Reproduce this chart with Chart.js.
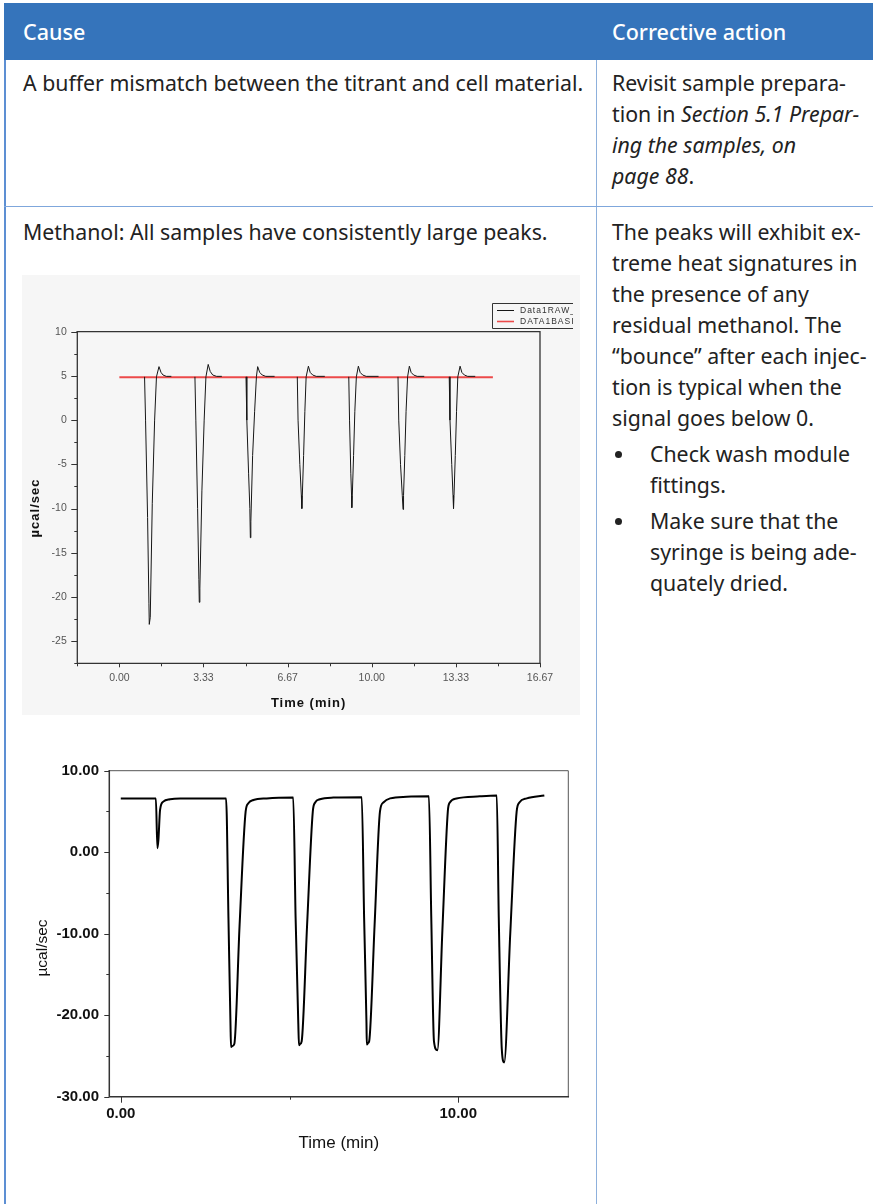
<!DOCTYPE html>
<html><head><meta charset="utf-8">
<script src="https://cdn.jsdelivr.net/npm/chart.js@4.4.1/dist/chart.umd.min.js"></script>
<style>
html,body{margin:0;padding:0;background:#fff;}
body{width:873px;height:1204px;position:relative;overflow:hidden;font-family:"Noto Sans",sans-serif;color:#222;}
.abs{position:absolute;}
.hdr{left:4px;top:3px;width:869px;height:57px;background:#3574bb;}
.htxt{color:#fff;font-size:21.5px;font-weight:500;top:3px;height:57px;line-height:57px;white-space:nowrap;}
.txt{font-size:21.3px;line-height:31px;white-space:nowrap;}
.dot{width:7px;height:7px;border-radius:50%;background:#222;}
canvas{position:absolute;display:block;}
</style>
</head><body>
<div class="abs hdr"></div>
<div class="abs htxt" style="left:23px">Cause</div>
<div class="abs htxt" style="left:612px">Corrective action</div>
<div class="abs" style="left:4px;top:60px;width:2px;height:1144px;background:#5d8fd3"></div>
<div class="abs" style="left:596px;top:60px;width:1px;height:1144px;background:#8db0dc"></div>
<div class="abs" style="left:4px;top:206px;width:869px;height:1px;background:#7fa7dc"></div>

<div class="abs txt" style="left:23px;top:67px">A buffer mismatch between the titrant and cell material.</div>
<div class="abs txt" style="left:612px;top:67px">Revisit sample prepara-<br>tion in <i>Section 5.1 Prepar-<br>ing the samples, on<br>page 88</i>.</div>

<div class="abs txt" style="left:23px;top:216px">Methanol: All samples have consistently large peaks.</div>
<div class="abs txt" style="left:612px;top:216px">The peaks will exhibit ex-<br>treme heat signatures in<br>the presence of any<br>residual methanol. The<br>“bounce” after each injec-<br>tion is typical when the<br>signal goes below 0.</div>
<div class="abs dot" style="left:615px;top:451px"></div>
<div class="abs txt" style="left:650px;top:438px">Check wash module<br>fittings.</div>
<div class="abs dot" style="left:615px;top:518px"></div>
<div class="abs txt" style="left:650px;top:505px">Make sure that the<br>syringe is being ade-<br>quately dried.</div>

<canvas id="c1" width="558" height="440" style="left:22px;top:275px;background:#f6f6f6"></canvas>
<canvas id="c2" width="568" height="425" style="left:22px;top:745px;background:#ffffff"></canvas>

<script>
// ---------- Chart 1 data (top, Origin-style plot) ----------
const legendLabels1 = ['Data1RAW_', 'DATA1BASI'];
const rawTime1 = [
  0.998,1.038,1.118,1.171,1.185,1.224,1.304,1.397,1.47,1.57,1.65,1.73,1.86,2.06, 2.5,
  2.994,3.03,3.10,3.15,3.166,3.19,3.27,3.36,3.43,3.52,3.6,3.7,3.85,4.06, 4.5,
  5.018,5.05,5.12,5.17,5.19,5.21,5.28,5.36,5.43,5.48,5.56,5.66,5.8,6.15, 6.6,
  7.05,7.08,7.15,7.21,7.23,7.25,7.3,7.35,7.4,7.49,7.56,7.66,7.8,8.14, 8.6,
  9.09,9.12,9.17,9.2,9.21,9.23,9.28,9.33,9.39,9.47,9.54,9.64,9.78,10.27, 10.6,
  11.04,11.07,11.14,11.21,11.24,11.26,11.31,11.36,11.42,11.49,11.56,11.66,11.8,12.08, 12.6,
  13.07,13.1,13.17,13.22,13.24,13.26,13.31,13.36,13.41,13.5,13.57,13.67,13.8,14.1
];
const rawSignal1 = [
  4.9,0,-11,-20.7,-23.1,-22.3,-9.4,0,4.9,6.05,5.4,5.1,4.95,4.95, null,
  4.9,0,-10,-18,-20.6,-19,-8,0,4.9,6.3,5.5,5.1,4.95,4.95, null,
  4.9,0,-6,-10,-13.3,-11.5,-4,1,4.9,6.05,5.4,5.1,4.95,4.95, null,
  4.9,0,-5,-8.5,-10,-8.5,-4,1,4.9,6.1,5.4,5.1,4.95,4.95, null,
  4.9,0,-6,-8.5,-9.9,-8.5,-4,1,4.9,6.1,5.4,5.1,4.95,4.95, null,
  4.9,0,-5,-8.5,-10.1,-8.5,-4,1,4.9,6.1,5.4,5.1,4.95,4.95, null,
  4.9,0,-5,-8.5,-10,-8.5,-4,1,4.9,6.1,5.4,5.1,4.95,4.95
];
const baseTime1 = [0, 14.8];
const baseSignal1 = [4.85, 4.85];
const xTickValues1 = [-1.6667,0,1.6667,3.3333,5,6.6667,8.3333,10,11.6667,13.3333,15,16.6667];
const xTickLabels1 = ['','0.00','','3.33','','6.67','','10.00','','13.33','','16.67'];
const yTickValues1 = [-27.5,-25,-22.5,-20,-17.5,-15,-12.5,-10,-7.5,-5,-2.5,0,2.5,5,7.5,10];
const yTickLabels1 = ['','-25','','-20','','-15','','-10','','-5','','0','','5','','10'];

// ---------- Chart 2 data (bottom plot) ----------
const time2 = [
  0,
  1.04,1.085,1.115,1.164,1.26,1.46,1.76,
  3.12,3.19,3.25,3.267,3.30,3.366,3.52,3.70,3.78,3.93,4.32,
  5.11,5.18,5.26,5.28,5.32,5.36,5.52,5.69,5.76,5.90,6.30,
  7.14,7.21,7.28,7.29,7.33,7.36,7.52,7.68,7.78,7.98,8.47,
  9.13,9.2,9.28,9.38,9.53,9.69,9.75,9.95,10.64,
  11.14,11.2,11.29,11.36,11.54,11.73,11.81,12.03,12.55
];
const signal2 = [
  6.6,
  6.6,0.5,1.5,5.2,6.2,6.5,6.6,
  6.6,-8,-21,-23.9,-23.8,-23.5,-9,5.0,6.0,6.4,6.6,
  6.7,-8,-21,-23.7,-23.5,-23.2,-9,5.0,6.1,6.5,6.7,
  6.75,-8,-21,-23.6,-23.4,-23.2,-9,5.0,6.1,6.6,6.8,
  6.85,-8,-23.2,-24.3,-9.5,5.0,6.1,6.6,6.85,
  6.95,-8,-24.2,-25.8,-10,5.0,6.1,6.6,6.95
];
const xTickValues2 = [0,5,10];
const xTickLabels2 = ['0.00','','10.00'];
const yTickValues2 = [-30,-25,-20,-15,-10,-5,0,5,10];
const yTickLabels2 = ['-30.00','','-20.00','','-10.00','','0.00','','10.00'];

// ---------- plugins ----------
const tickMarks = {
  id:'tickMarks',
  afterDatasetsDraw(chart, args, o){
    const ctx = chart.ctx; ctx.save();
    ctx.strokeStyle = o.color; ctx.lineWidth = o.width;
    const xs = chart.scales.x, ys = chart.scales.y;
    xs.ticks.forEach(t => {
      const p = Math.round(xs.getPixelForValue(t.value)) + 0.5;
      const len = t.label !== '' ? o.xMajor : o.xMinor;
      ctx.beginPath(); ctx.moveTo(p, xs.top); ctx.lineTo(p, xs.top + len); ctx.stroke();
    });
    ys.ticks.forEach(t => {
      const p = Math.round(ys.getPixelForValue(t.value)) + 0.5;
      const len = t.label !== '' ? o.yMajor : o.yMinor;
      ctx.beginPath(); ctx.moveTo(ys.right, p); ctx.lineTo(ys.right - len, p); ctx.stroke();
    });
    ctx.restore();
  }
};
const frame = {
  id:'frame',
  afterDatasetsDraw(chart, args, o){
    const {left, top, right, bottom} = chart.chartArea; const ctx = chart.ctx;
    ctx.save(); ctx.lineCap = 'square';
    ctx.strokeStyle = o.outerColor; ctx.lineWidth = o.outerWidth;
    ctx.beginPath(); ctx.moveTo(left, top); ctx.lineTo(right, top); ctx.lineTo(right, bottom); ctx.stroke();
    ctx.strokeStyle = o.axisColor; ctx.lineWidth = o.axisWidth;
    ctx.beginPath(); ctx.moveTo(left, top); ctx.lineTo(left, bottom); ctx.lineTo(right, bottom); ctx.stroke();
    ctx.restore();
  }
};
const axisTitles = {
  id:'axisTitles',
  afterDraw(chart, args, o){
    const ctx = chart.ctx, a = chart.chartArea;
    ctx.save(); ctx.fillStyle = o.color; ctx.textAlign = 'center'; ctx.textBaseline = 'middle';
    ctx.letterSpacing = o.spacing || '0px';
    ctx.font = o.xFont; ctx.fillText(o.xText, (a.left + a.right) / 2, a.bottom + o.xOffset);
    ctx.translate(o.yX, (a.top + a.bottom) / 2 + o.yShift); ctx.rotate(-Math.PI / 2);
    ctx.font = o.yFont; ctx.fillText(o.yText, 0, 0);
    ctx.restore();
  }
};
const legendBox = {
  id:'legendBox',
  afterDraw(chart, args, o){
    const ctx = chart.ctx; ctx.save();
    ctx.beginPath(); ctx.rect(0, 0, o.right, chart.height); ctx.clip();
    ctx.strokeStyle = '#333'; ctx.lineWidth = 1;
    ctx.beginPath();
    ctx.moveTo(o.right + 2, o.top + 0.5); ctx.lineTo(o.left + 0.5, o.top + 0.5);
    ctx.lineTo(o.left + 0.5, o.bottom + 0.5); ctx.lineTo(o.right + 2, o.bottom + 0.5); ctx.stroke();
    ctx.font = o.font; ctx.textBaseline = 'middle'; ctx.fillStyle = '#333';
    ctx.letterSpacing = '1px';
    chart.data.datasets.forEach((ds, i) => {
      const y = o.top + o.rowY[i];
      ctx.strokeStyle = ds.borderColor; ctx.lineWidth = i === 0 ? 1 : 1.6;
      ctx.beginPath(); ctx.moveTo(o.left + 5, y); ctx.lineTo(o.left + 22, y); ctx.stroke();
      ctx.fillText(ds.label, o.left + 28, y);
    });
    ctx.restore();
  }
};

// ---------- Chart 1 ----------
new Chart(document.getElementById('c1'), {
  type:'line',
  data:{datasets:[
    {label:legendLabels1[0], data:rawTime1.map((t,i)=>({x:t, y:rawSignal1[i]})), borderColor:'#161616', borderWidth:1, pointRadius:0, tension:0, spanGaps:false},
    {label:legendLabels1[1], data:baseTime1.map((t,i)=>({x:t, y:baseSignal1[i]})), borderColor:'#ec4a4a', borderWidth:1.8, pointRadius:0, tension:0}
  ]},
  plugins:[tickMarks, frame, axisTitles, legendBox],
  options:{
    responsive:false, animation:false, events:[],
    layout:{padding:{left:0, top:56.7, right:40, bottom:0}},
    plugins:{
      legend:{display:false}, tooltip:{enabled:false},
      tickMarks:{color:'#333', width:1, xMajor:4, xMinor:3, yMajor:6, yMinor:3},
      frame:{outerColor:'#333', outerWidth:1.3, axisColor:'#333', axisWidth:1.3},
      axisTitles:{color:'#111', spacing:'1px', xText:'Time (min)', xFont:'bold 13px "Liberation Sans", Arial, sans-serif', xOffset:39.7,
                  yText:'µcal/sec', yFont:'bold 13px "Liberation Sans", Arial, sans-serif', yX:13, yShift:10.5},
      legendBox:{left:470, top:28, bottom:53, right:551, rowY:[7.5, 18.5], font:'8.5px "Liberation Sans", Arial, sans-serif'}
    },
    scales:{
      x:{type:'linear', min:-1.6667, max:16.6667, grid:{display:false, drawTicks:false}, border:{display:false},
         afterBuildTicks:s=>{ s.ticks = xTickValues1.map(v=>({value:v})); },
         afterFit:s=>{ s.height = 51.7; },
         ticks:{autoSkip:false, maxRotation:0, padding:8.5, color:'#555', font:{family:'"Liberation Sans", Arial, sans-serif', size:10.5},
                callback:(v,i)=>xTickLabels1[i]}},
      y:{type:'linear', min:-27.5, max:10, grid:{display:false, drawTicks:false}, border:{display:false},
         afterBuildTicks:s=>{ s.ticks = yTickValues1.map(v=>({value:v})); },
         afterFit:s=>{ s.width = 55.3; },
         ticks:{autoSkip:false, padding:10.5, color:'#555', font:{family:'"Liberation Sans", Arial, sans-serif', size:10.5},
                callback:(v,i)=>yTickLabels1[i]}}
    }
  }
});

// ---------- Chart 2 ----------
new Chart(document.getElementById('c2'), {
  type:'line',
  data:{datasets:[
    {label:'Raw', data:time2.map((t,i)=>({x:t, y:signal2[i]})), borderColor:'#000', borderWidth:2, pointRadius:0, cubicInterpolationMode:'monotone'}
  ]},
  plugins:[tickMarks, frame, axisTitles],
  options:{
    responsive:false, animation:false, events:[],
    layout:{padding:{left:0, top:25.7, right:21.7, bottom:0}},
    plugins:{
      legend:{display:false}, tooltip:{enabled:false},
      tickMarks:{color:'#333', width:1, xMajor:6, xMinor:3, yMajor:5, yMinor:3},
      frame:{outerColor:'#555', outerWidth:1, axisColor:'#333', axisWidth:1.5},
      axisTitles:{color:'#111', xText:'Time (min)', xFont:'17px "Liberation Sans", Arial, sans-serif', xOffset:46.3,
                  yText:'µcal/sec', yFont:'15.5px "Liberation Sans", Arial, sans-serif', yX:20.7, yShift:14.3}
    },
    scales:{
      x:{type:'linear', min:-0.34, max:13.26, grid:{display:false, drawTicks:false}, border:{display:false},
         afterBuildTicks:s=>{ s.ticks = xTickValues2.map(v=>({value:v})); },
         afterFit:s=>{ s.height = 73.3; },
         ticks:{autoSkip:false, maxRotation:0, padding:8.5, color:'#111', font:{family:'"Liberation Sans", Arial, sans-serif', size:15, weight:'bold'},
                callback:(v,i)=>xTickLabels2[i]}},
      y:{type:'linear', min:-30, max:10, grid:{display:false, drawTicks:false}, border:{display:false},
         afterBuildTicks:s=>{ s.ticks = yTickValues2.map(v=>({value:v})); },
         afterFit:s=>{ s.width = 87.3; },
         ticks:{autoSkip:false, padding:10.3, color:'#111', font:{family:'"Liberation Sans", Arial, sans-serif', size:15, weight:'bold'},
                callback:(v,i)=>yTickLabels2[i]}}
    }
  }
});
</script>
</body></html>
